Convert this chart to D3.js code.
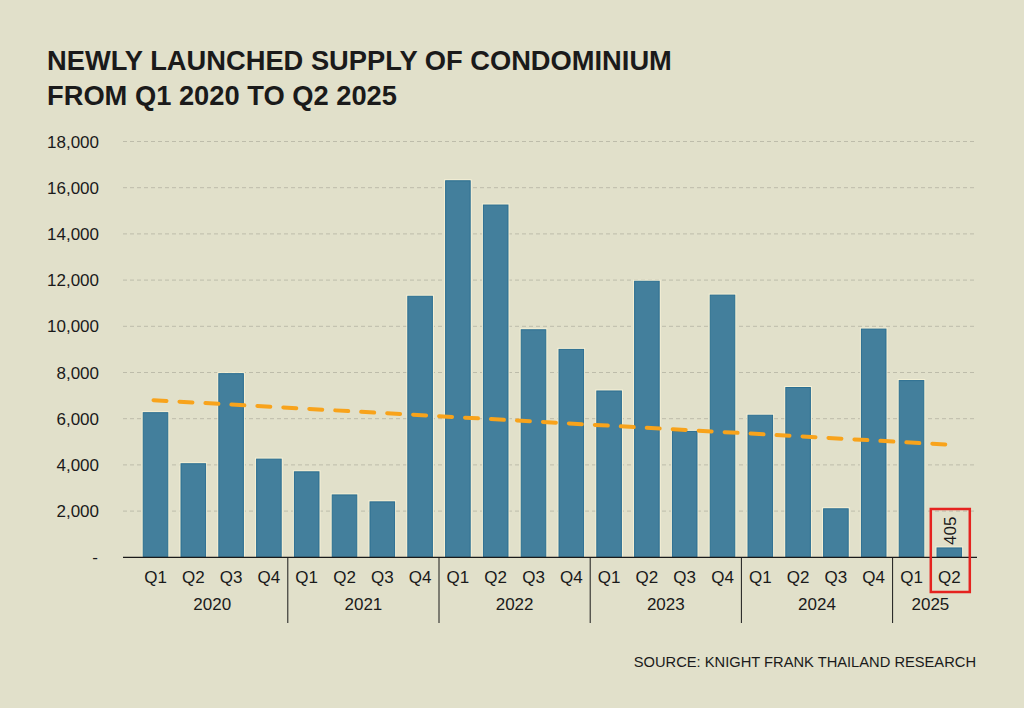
<!DOCTYPE html>
<html>
<head>
<meta charset="utf-8">
<script src="https://cdn.jsdelivr.net/npm/d3@7.9.0/dist/d3.min.js"></script>
<style>
  html, body { margin: 0; padding: 0; background: #e1e0ca; }
  svg { display: block; font-family: "Liberation Sans", Arial, sans-serif; }
</style>
</head>
<body>
<svg id="chart" width="1024" height="708"></svg>
<script>
// Chart data
const years = ['2020', '2021', '2022', '2023', '2024', '2025'];
const quarters = ['Q1', 'Q2', 'Q3', 'Q4'];
const periods = ['Q1 2020', 'Q2 2020', 'Q3 2020', 'Q4 2020',
                 'Q1 2021', 'Q2 2021', 'Q3 2021', 'Q4 2021',
                 'Q1 2022', 'Q2 2022', 'Q3 2022', 'Q4 2022',
                 'Q1 2023', 'Q2 2023', 'Q3 2023', 'Q4 2023',
                 'Q1 2024', 'Q2 2024', 'Q3 2024', 'Q4 2024',
                 'Q1 2025', 'Q2 2025'];
const supply = [6260, 4050, 7950, 4250,
                3700, 2700, 2400, 11300,
                16300, 15250, 9850, 9000,
                7200, 11950, 5450, 11350,
                6150, 7350, 2100, 9880,
                7650, 405];
// trend line values at first and last period
const trendValues = [6800, 4870];
const yTicks = [0, 2000, 4000, 6000, 8000, 10000, 12000, 14000, 16000, 18000];
const highlightPeriod = 'Q2 2025';

const svg = d3.select('#chart');

// Title
const title = svg.append('g').attr('font-weight', 'bold').attr('font-size', 27.3).attr('fill', '#1a1a1a');
title.append('text').attr('x', 47).attr('y', 70).text('NEWLY LAUNCHED SUPPLY OF CONDOMINIUM');
title.append('text').attr('x', 47).attr('y', 105).text('FROM Q1 2020 TO Q2 2025');

// Scales
const axisLeft = 123, axisRight = 977;
const x = d3.scaleBand()
    .domain(periods)
    .range([136.6, 968.2])
    .paddingInner(0.35)
    .paddingOuter(0.175);
const y = d3.scaleLinear()
    .domain([0, 18000])
    .range([557.3, 141.5]);

// Gridlines
svg.append('g')
    .selectAll('line')
    .data(yTicks.filter(d => d > 0))
    .join('line')
    .attr('x1', axisLeft)
    .attr('x2', axisRight)
    .attr('y1', d => y(d))
    .attr('y2', d => y(d))
    .attr('stroke', '#bdbcaa')
    .attr('stroke-width', 1)
    .attr('stroke-dasharray', '4,3');

// Y axis labels
svg.append('g')
    .attr('font-size', 17)
    .attr('fill', '#1a1a1a')
    .selectAll('text')
    .data(yTicks)
    .join('text')
    .attr('x', d => d === 0 ? 98 : 99)
    .attr('y', d => y(d) + 6)
    .attr('text-anchor', 'end')
    .text(d => d === 0 ? '-' : d3.format(',')(d));

// Bars: cream halo then bar
const bars = svg.append('g');
bars.selectAll('rect.halo')
    .data(supply)
    .join('rect')
    .attr('class', 'halo')
    .attr('x', (d, i) => x(periods[i]) - 1.5)
    .attr('y', d => y(d) - 1.5)
    .attr('width', x.bandwidth() + 3)
    .attr('height', d => y(0) - y(d) + 1.5)
    .attr('fill', '#f6f1d6');
bars.selectAll('rect.bar')
    .data(supply)
    .join('rect')
    .attr('class', 'bar')
    .attr('x', (d, i) => x(periods[i]))
    .attr('y', d => y(d))
    .attr('width', x.bandwidth())
    .attr('height', d => y(0) - y(d))
    .attr('fill', '#437f9c')
    .attr('stroke', '#2a6e91')
    .attr('stroke-width', 1);

// Axis line
svg.append('line')
    .attr('x1', axisLeft).attr('x2', axisRight)
    .attr('y1', y(0)).attr('y2', y(0))
    .attr('stroke', '#1a1a1a').attr('stroke-width', 1.3);

// Quarter labels
svg.append('g')
    .attr('font-size', 17)
    .attr('fill', '#1a1a1a')
    .attr('text-anchor', 'middle')
    .selectAll('text')
    .data(periods)
    .join('text')
    .attr('x', d => x(d) + x.bandwidth() / 2)
    .attr('y', 583)
    .text(d => d.split(' ')[0]);

// Year labels and separators
const yearGroups = years.map(yr => periods.filter(p => p.endsWith(yr)));
svg.append('g')
    .attr('font-size', 17)
    .attr('fill', '#1a1a1a')
    .attr('text-anchor', 'middle')
    .selectAll('text')
    .data(yearGroups)
    .join('text')
    .attr('x', g => (x(g[0]) + x(g[g.length - 1]) + x.bandwidth()) / 2)
    .attr('y', 610)
    .text((g, i) => years[i]);

svg.append('g')
    .selectAll('line')
    .data(yearGroups.slice(1))
    .join('line')
    .attr('x1', g => x(g[0]) - x.step() * x.paddingInner() / 2)
    .attr('x2', g => x(g[0]) - x.step() * x.paddingInner() / 2)
    .attr('y1', y(0))
    .attr('y2', 623)
    .attr('stroke', '#1a1a1a')
    .attr('stroke-width', 1);

// Trend line
const firstP = periods[0], lastP = periods[periods.length - 1];
svg.append('line')
    .attr('x1', x(firstP) + x.bandwidth() / 2 - 2)
    .attr('x2', x(lastP) + x.bandwidth() / 2 + 2)
    .attr('y1', y(trendValues[0]))
    .attr('y2', y(trendValues[1]))
    .attr('stroke', '#f8a31b')
    .attr('stroke-width', 4)
    .attr('stroke-linecap', 'round')
    .attr('stroke-dasharray', '13,13');

// Highlight: value label and red box
const hi = periods.indexOf(highlightPeriod);
const hx = x(highlightPeriod) + x.bandwidth() / 2;
svg.append('text')
    .attr('transform', `translate(${hx + 7},${y(supply[hi]) - 3}) rotate(-90)`)
    .attr('font-size', 17)
    .attr('fill', '#1a1a1a')
    .text(d3.format(',')(supply[hi]));
svg.append('rect')
    .attr('x', hx - 18.5)
    .attr('y', 509)
    .attr('width', 39)
    .attr('height', 83)
    .attr('fill', 'none')
    .attr('stroke', '#e5231f')
    .attr('stroke-width', 2.5);

// Source
svg.append('text')
    .attr('x', 976)
    .attr('y', 667)
    .attr('text-anchor', 'end')
    .attr('font-size', 14.7)
    .attr('fill', '#1a1a1a')
    .text('SOURCE: KNIGHT FRANK THAILAND RESEARCH');
</script>
</body>
</html>
